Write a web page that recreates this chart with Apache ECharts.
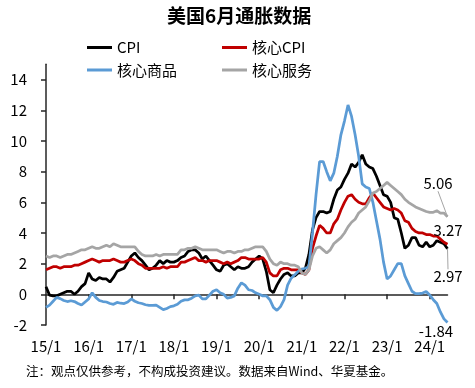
<!DOCTYPE html>
<html><head><meta charset="utf-8">
<script src="https://cdn.jsdelivr.net/npm/echarts@6/dist/echarts.min.js"></script>
<style>html,body{margin:0;padding:0;background:#fff}#c{width:475px;height:388px}</style>
</head><body><div id="c"></div>
<script>
const chartTitle = '美国6月通胀数据';
const note = '注：观点仅供参考，不构成投资建议。数据来自Wind、华夏基金。';
const names = ['CPI', '核心CPI', '核心商品', '核心服务'];
const startYear = 2015, nMonths = 114;
const yTicks = [-2, 0, 2, 4, 6, 8, 10, 12, 14];

const cpi = [
  0.5, -0.05, -0.1, -0.1, 0.0, 0.1, 0.2, 0.2, 0.0, 0.2, 0.5, 0.7,
  1.4, 1.0, 0.9, 1.1, 1.0, 1.0, 0.8, 1.1, 1.5, 1.6, 1.7, 2.1,
  2.5, 2.7, 2.4, 2.2, 1.9, 1.6, 1.7, 1.9, 2.2, 2.0, 2.2, 2.1,
  2.1, 2.2, 2.4, 2.5, 2.8, 2.9, 2.9, 2.7, 2.3, 2.5, 2.2, 1.9,
  1.6, 1.5, 1.9, 2.0, 1.8, 1.6, 1.8, 1.7, 1.7, 1.8, 2.1, 2.3,
  2.5, 2.3, 1.5, 0.3, 0.1, 0.6, 1.0, 1.3, 1.4, 1.2, 1.2, 1.4,
  1.4, 1.7, 2.6, 4.2, 5.0, 5.4, 5.4, 5.3, 5.4, 6.2, 6.8, 7.0,
  7.5, 7.9, 8.5, 8.3, 8.6, 9.1, 8.5, 8.3, 8.2, 7.7, 7.1, 6.5,
  6.4, 6.0, 5.0, 4.9, 4.0, 3.0, 3.2, 3.7, 3.7, 3.2, 3.1, 3.4,
  3.1, 3.2, 3.5, 3.4, 3.3, 2.97
];
const coreCpi = [
  1.6, 1.7, 1.8, 1.8, 1.7, 1.8, 1.8, 1.8, 1.9, 1.9, 2.0, 2.1,
  2.2, 2.3, 2.2, 2.1, 2.2, 2.2, 2.2, 2.3, 2.2, 2.1, 2.1, 2.2,
  2.3, 2.2, 2.0, 1.9, 1.7, 1.7, 1.7, 1.7, 1.7, 1.8, 1.7, 1.8,
  1.8, 1.8, 2.1, 2.1, 2.2, 2.3, 2.4, 2.2, 2.2, 2.1, 2.2, 2.2,
  2.2, 2.1, 2.0, 2.1, 2.0, 2.1, 2.2, 2.4, 2.4, 2.3, 2.3, 2.3,
  2.3, 2.4, 2.1, 1.4, 1.2, 1.2, 1.6, 1.7, 1.7, 1.6, 1.6, 1.6,
  1.4, 1.3, 1.6, 3.0, 3.8, 4.5, 4.3, 4.0, 4.0, 4.6, 4.9, 5.5,
  6.0, 6.4, 6.5, 6.2, 6.0, 5.9, 5.9, 6.3, 6.6, 6.3, 6.0, 5.7,
  5.6, 5.5, 5.6, 5.5, 5.3, 4.8, 4.7, 4.3, 4.1, 4.0, 4.0, 3.9,
  3.9, 3.8, 3.8, 3.6, 3.4, 3.27
];
const coreGoods = [
  -0.85, -0.7, -0.45, -0.2, -0.28, -0.4, -0.47, -0.42, -0.47, -0.6, -0.7, -0.5,
  -0.3, 0.1, -0.2, -0.4, -0.47, -0.5, -0.6, -0.65, -0.53, -0.58, -0.6, -0.5,
  -0.3, -0.45, -0.55, -0.6, -0.68, -0.72, -0.72, -0.7, -0.85, -1.0, -0.92, -0.8,
  -0.75, -0.65, -0.45, -0.36, -0.36, -0.25, -0.1, -0.05, -0.3, -0.3, -0.05, 0.2,
  0.3, 0.1, 0.0, -0.25, -0.2, -0.1, 0.4, 0.75, 0.6, 0.3, 0.25, 0.1,
  0.0, -0.1, -0.1, -0.35, -0.85, -1.05, -0.8, -0.35, 0.6, 1.05, 1.27, 1.5,
  1.65, 1.7, 1.8, 4.0, 6.5, 8.66, 8.66, 8.0, 7.4, 7.9, 9.0, 10.4,
  11.3, 12.35, 11.6, 10.4, 9.0, 7.2, 7.0, 6.9, 6.0, 4.8, 3.6, 2.1,
  1.0, 1.2, 1.6, 2.0, 2.0, 1.2, 0.7, 0.2, 0.05, 0.05, 0.08, 0.18,
  -0.05, -0.35, -0.6, -1.15, -1.6, -1.84
];
const coreServices = [
  2.5, 2.4, 2.5, 2.5, 2.4, 2.5, 2.6, 2.6, 2.7, 2.8, 2.9, 2.9,
  3.0, 3.1, 3.0, 3.0, 3.1, 3.2, 3.1, 3.3, 3.2, 3.1, 3.1, 3.1,
  3.1, 3.1, 2.8, 2.6, 2.5, 2.5, 2.5, 2.6, 2.5, 2.6, 2.6, 2.6,
  2.6, 2.6, 2.9, 2.9, 3.0, 3.0, 3.1, 3.0, 2.9, 2.9, 2.9, 2.9,
  2.9, 2.8, 2.7, 2.8, 2.8, 2.7, 2.8, 2.8, 2.9, 2.9, 3.0, 3.1,
  3.1, 3.1, 2.8, 2.3, 2.0, 1.9, 2.1, 2.0, 2.0, 1.9, 1.9, 1.8,
  1.4, 1.3, 1.6, 2.5, 3.0, 3.1, 2.9, 2.7, 2.9, 3.3, 3.5, 3.7,
  4.0, 4.4, 4.7, 4.9, 5.3, 5.5, 5.7, 6.1, 6.6, 6.7, 6.9, 7.1,
  7.3, 7.1, 6.9, 6.7, 6.5, 6.2, 6.0, 5.85, 5.7, 5.6, 5.5, 5.4,
  5.35, 5.35, 5.45, 5.3, 5.3, 5.06
];

const months = [];
for (let i = 0; i < nMonths; i++) {
  const y = startYear + Math.floor(i / 12), m = i % 12 + 1;
  months.push(y + '-' + (m < 10 ? '0' + m : m));
}
const isJan = (idx) => idx % 12 === 0;

const FONT = '"Noto Sans CJK SC", "Noto Sans", sans-serif';
const colors = ['#000000', '#C00000', '#5B9BD5', '#A5A5A5'];

function withEndLabel(arr, dx, dy, guide) {
  return arr.map((v, i) => {
    if (i !== arr.length - 1) return v;
    const item = {
      value: v,
      label: { show: true, position: 'inside', formatter: String(v.toFixed(2)),
        fontSize: 15, color: '#000', fontFamily: FONT },
      labelLayout: { dx: dx, dy: dy }
    };
    if (guide) item.labelLine = { show: true, lineStyle: { color: '#A5A5A5', width: 1 } };
    return item;
  });
}

const chart = echarts.init(document.getElementById('c'), null, { renderer: 'canvas' });
const lineSeries = (name, data, color, dx, dy, guide) => ({
  name: name, type: 'line', data: withEndLabel(data, dx, dy, guide),
  xAxisIndex: 0, yAxisIndex: 0,
  showSymbol: true, showAllSymbol: true, symbol: 'circle', symbolSize: 0.01,
  itemStyle: { color: color }, lineStyle: { color: color, width: 2.75 },
  label: { show: false },
  labelLayout: { dx: dx, dy: dy },
  labelLine: { show: !!guide, lineStyle: { color: '#A5A5A5', width: 1 } },
  emphasis: { disabled: true }, animation: false
});

chart.setOption({
  animation: false,
  backgroundColor: '#fff',
  title: [
    { text: chartTitle, left: 167, top: 6, padding: 0,
      textStyle: { fontSize: 19, fontWeight: 'bold', color: '#000', fontFamily: FONT } },
    { text: note, left: 26, top: 365, padding: 0,
      textStyle: { fontSize: 12.5, fontWeight: 'normal', color: '#000', fontFamily: FONT } }
  ],
  legend: [
    { data: [names[0], names[2]], orient: 'vertical', left: 87, top: 40, padding: 0,
      icon: 'rect', itemWidth: 25, itemHeight: 3, itemGap: 7.5,
      textStyle: { fontSize: 15, lineHeight: 15, color: '#000', fontFamily: FONT } },
    { data: [names[1], names[3]], orient: 'vertical', left: 222, top: 40, padding: 0,
      icon: 'rect', itemWidth: 25, itemHeight: 3, itemGap: 7.5,
      textStyle: { fontSize: 15, lineHeight: 15, color: '#000', fontFamily: FONT } }
  ],
  grid: { left: 46, right: 27.5, top: 64.3, bottom: 63, containLabel: false },
  xAxis: [
    { type: 'category', data: months, boundaryGap: false, position: 'bottom',
      axisLine: { show: false }, axisTick: { show: false }, splitLine: { show: false },
      axisLabel: { interval: (i) => isJan(i), margin: 14, fontSize: 15, color: '#000', fontFamily: FONT,
        formatter: (v) => v.slice(2, 4) + '/' + String(parseInt(v.slice(5), 10)) } },
    { type: 'category', data: months, boundaryGap: false, position: 'top',
      axisLine: { show: true, onZero: true, onZeroAxisIndex: 0, lineStyle: { color: '#262626', width: 1.5 } },
      axisTick: { show: true, inside: true, length: 5, interval: (i) => isJan(i) && i > 0,
        lineStyle: { color: '#262626', width: 1.5 } },
      axisLabel: { show: false }, splitLine: { show: false } }
  ],
  yAxis: [{
    type: 'value', min: -2, max: 15,
    axisLine: { show: true, lineStyle: { color: '#262626', width: 1.5 } },
    axisTick: { show: true, length: 5, customValues: yTicks, lineStyle: { color: '#262626', width: 1.5 } },
    axisLabel: { customValues: yTicks, margin: 19, fontSize: 15, color: '#000', fontFamily: FONT },
    splitLine: { show: false }
  }],
  series: [
    lineSeries(names[0], cpi, colors[0], 0.5, 28, true),
    lineSeries(names[1], coreCpi, colors[1], 0.5, -13.5, false),
    lineSeries(names[2], coreGoods, colors[2], -11.5, 9, false),
    lineSeries(names[3], coreServices, colors[3], -9.5, -33, true)
  ]
});
</script>
</body></html>
